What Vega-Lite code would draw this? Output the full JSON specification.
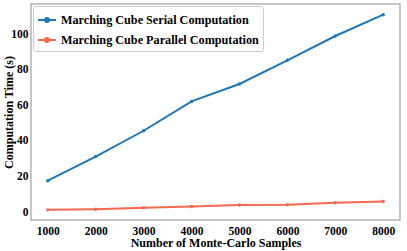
{
  "$schema": "https://vega.github.io/schema/vega-lite/v6.json",
  "width": 369,
  "height": 216,
  "autosize": "none",
  "padding": {"left": 31, "top": 4, "right": 7, "bottom": 31},
  "background": "white",
  "config": {
    "font": "Liberation Serif",
    "view": {"stroke": "#b3b3b3", "strokeWidth": 1.5},
    "axis": {
      "grid": false,
      "domain": false,
      "ticks": false,
      "labelFont": "Liberation Serif",
      "labelFontWeight": "bold",
      "labelFontSize": 11.5,
      "labelColor": "black",
      "titleFont": "Liberation Serif",
      "titleFontWeight": "bold",
      "titleFontSize": 12,
      "titleColor": "black"
    }
  },
  "data": {
    "values": [
      {"samples": 1000, "time": 17.6, "series": "Marching Cube Serial Computation"},
      {"samples": 2000, "time": 31.2, "series": "Marching Cube Serial Computation"},
      {"samples": 3000, "time": 45.7, "series": "Marching Cube Serial Computation"},
      {"samples": 4000, "time": 62.2, "series": "Marching Cube Serial Computation"},
      {"samples": 5000, "time": 72.0, "series": "Marching Cube Serial Computation"},
      {"samples": 6000, "time": 85.3, "series": "Marching Cube Serial Computation"},
      {"samples": 7000, "time": 99.0, "series": "Marching Cube Serial Computation"},
      {"samples": 8000, "time": 111.0, "series": "Marching Cube Serial Computation"},
      {"samples": 1000, "time": 1.2, "series": "Marching Cube Parallel Computation"},
      {"samples": 2000, "time": 1.6, "series": "Marching Cube Parallel Computation"},
      {"samples": 3000, "time": 2.4, "series": "Marching Cube Parallel Computation"},
      {"samples": 4000, "time": 3.1, "series": "Marching Cube Parallel Computation"},
      {"samples": 5000, "time": 3.9, "series": "Marching Cube Parallel Computation"},
      {"samples": 6000, "time": 4.1, "series": "Marching Cube Parallel Computation"},
      {"samples": 7000, "time": 5.2, "series": "Marching Cube Parallel Computation"},
      {"samples": 8000, "time": 5.9, "series": "Marching Cube Parallel Computation"}
    ]
  },
  "mark": {"type": "line", "strokeWidth": 2, "point": {"filled": true, "size": 12}},
  "encoding": {
    "x": {
      "field": "samples",
      "type": "quantitative",
      "title": "Number of Monte-Carlo Samples",
      "scale": {"domain": [650, 8350], "nice": false, "zero": false},
      "axis": {"values": [1000, 2000, 3000, 4000, 5000, 6000, 7000, 8000], "format": "d", "labelPadding": 5, "titleY": 22.5, "titleBaseline": "middle"}
    },
    "y": {
      "field": "time",
      "type": "quantitative",
      "title": "Computation Time (s)",
      "scale": {"domain": [-4.5, 117], "nice": false, "zero": false},
      "axis": {"values": [0, 20, 40, 60, 80, 100], "labelPadding": 3, "titleX": -23, "titleBaseline": "middle"}
    },
    "color": {
      "field": "series",
      "type": "nominal",
      "sort": ["Marching Cube Serial Computation", "Marching Cube Parallel Computation"],
      "scale": {"domain": ["Marching Cube Serial Computation", "Marching Cube Parallel Computation"], "range": ["#1f77b4", "#f4694f"]},
      "legend": {
        "title": null,
        "orient": "top-left",
        "offset": 2,
        "padding": 4,
        "rowPadding": 3,
        "strokeColor": "#cccccc",
        "fillColor": "white",
        "cornerRadius": 2,
        "symbolType": "M-1,0L1,0M0.22,0A0.22,0.22,0,1,1,-0.22,0A0.22,0.22,0,1,1,0.22,0Z",
        "symbolSize": 324,
        "symbolStrokeWidth": 2,
        "labelFont": "Liberation Serif",
        "labelFontWeight": "bold",
        "labelFontSize": 12.2,
        "labelColor": "black",
        "labelOffset": 4,
        "labelLimit": 0,
        "encode": {"symbols": {"update": {"fill": {"scale": "color", "field": "value"}}}}
      }
    }
  }
}
